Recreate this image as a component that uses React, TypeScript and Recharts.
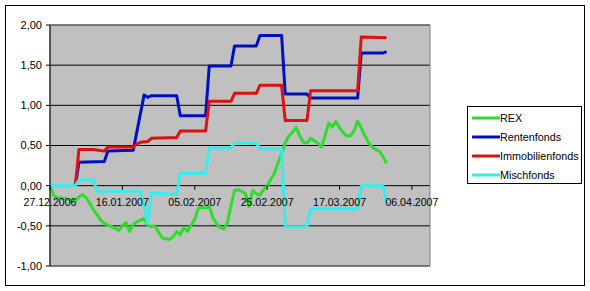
import { CartesianGrid, Line, LineChart, ReferenceArea, XAxis, YAxis } from "recharts";

const W = 590;
const H = 291;
const MARGIN = { top: 25, right: 160, bottom: 0, left: 0 };
const X_AXIS_H = 25;
const Y_AXIS_W = 50;
const FONT = "Arial, 'Liberation Sans', sans-serif";

// axes
const yDomain: [number, number] = [-1, 2];
const yTicks = [-1, -0.5, 0, 0.5, 1, 1.5, 2];
const xDomain: [number, number] = [0, 105];
const xTickDays = [0, 20, 40, 60, 80, 100];
const xTickLabels = ["27.12.2006", "16.01.2007", "05.02.2007", "25.02.2007", "17.03.2007", "06.04.2007"];

// [day since 27.12.2006, value]
const rex: [number, number][] = [
  [0, 0], [1, -0.12], [2, -0.15], [4, -0.16], [6, -0.18], [7, -0.19], [8, -0.14], [9, -0.11],
  [10, -0.15], [11, -0.22], [12, -0.3], [13, -0.36], [14, -0.43], [15, -0.47], [17, -0.51],
  [18, -0.53], [19, -0.56], [20, -0.5], [21, -0.46], [22, -0.57], [23, -0.48], [24, -0.45],
  [25, -0.43], [26, -0.41], [27, -0.49], [28, -0.51], [29, -0.5], [30, -0.58], [31, -0.65],
  [32, -0.66], [33, -0.67], [34, -0.64], [35, -0.57], [36, -0.61], [37, -0.52], [38, -0.57],
  [39, -0.49], [40, -0.42], [41, -0.28], [42, -0.27], [43, -0.28], [44, -0.25], [45, -0.4],
  [46, -0.47], [47, -0.52], [48, -0.54], [49, -0.46], [50, -0.25], [51, -0.06], [52, -0.05],
  [53, -0.07], [54, -0.1], [55, -0.26], [56, -0.06], [57, -0.1], [58, -0.12], [59, -0.05],
  [60, 0.0], [61, 0.08], [62, 0.15], [63, 0.28], [64, 0.4], [65, 0.53], [66, 0.62], [67, 0.66],
  [68, 0.73], [69, 0.62], [70, 0.54], [71, 0.53], [72, 0.59], [73, 0.56], [74, 0.53], [75, 0.48],
  [76, 0.62], [77, 0.78], [78, 0.73], [79, 0.8], [80, 0.72], [81, 0.66], [82, 0.62], [83, 0.62],
  [84, 0.68], [85, 0.8], [86, 0.72], [87, 0.62], [88, 0.54], [89, 0.48], [90, 0.45], [91, 0.43],
  [92, 0.36], [93, 0.28],
];

const rentenfonds: [number, number][] = [
  [7, 0], [8, 0.29], [15, 0.3], [16, 0.43], [23, 0.44], [26, 1.13], [27, 1.1], [28, 1.12],
  [35, 1.12], [36, 0.87], [43, 0.87], [44, 1.49], [50, 1.49], [51, 1.74], [57, 1.74], [58, 1.87],
  [64, 1.87], [65, 1.14], [71, 1.14], [72, 1.09], [85, 1.09], [86, 1.65], [92, 1.65], [93, 1.67],
];

const immobilienfonds: [number, number][] = [
  [7, 0], [8, 0.45], [12, 0.45], [15, 0.43], [16, 0.48], [23, 0.48], [24, 0.52], [25, 0.54],
  [27, 0.55], [28, 0.59], [35, 0.6], [36, 0.68], [43, 0.68], [44, 1.05], [50, 1.05], [51, 1.15],
  [57, 1.15], [58, 1.25], [64, 1.25], [65, 0.81], [71, 0.81], [72, 1.18], [85, 1.18], [86, 1.85],
  [93, 1.84],
];

const mischfonds: [number, number][] = [
  [0, 0], [7, 0], [8, 0.07], [12, 0.07], [13, -0.07], [25, -0.07], [27, -0.47], [28, -0.09],
  [35, -0.11], [36, 0.15], [43, 0.15], [44, 0.47], [50, 0.47], [51, 0.53], [57, 0.53], [58, 0.46],
  [64, 0.46], [65, -0.51], [71, -0.51], [72, -0.29], [85, -0.29], [86, 0.0], [92, 0.0], [93, -0.22],
];

const series = [
  { name: "REX", color: "#2edc2e", points: rex },
  { name: "Rentenfonds", color: "#0010c0", points: rentenfonds },
  { name: "Immobilienfonds", color: "#dd1111", points: immobilienfonds },
  { name: "Mischfonds", color: "#33eeee", points: mischfonds },
];

const fmtY = (v: number) => v.toFixed(2).replace(".", ",");

// x axis crosses at 0, so ticks/labels are shifted up from the plot bottom
function DateTick({ x, y, payload }: any) {
  const plotH = H - MARGIN.top - MARGIN.bottom - X_AXIS_H;
  const zeroY = y - (plotH * (0 - yDomain[0])) / (yDomain[1] - yDomain[0]);
  const i = xTickDays.indexOf(payload.value);
  return (
    <g>
      <line x1={x} x2={x} y1={zeroY} y2={zeroY + 4} stroke="#000" />
      <text x={x} y={zeroY + 20} textAnchor="middle" fontSize={10.6} fill="#000" fontFamily={FONT}>
        {xTickLabels[i]}
      </text>
    </g>
  );
}

function LegendBox() {
  return (
    <div
      style={{
        position: "absolute",
        left: 467,
        top: 106,
        width: 113,
        height: 76,
        border: "1px solid #000",
        background: "#fff",
        fontFamily: FONT,
        fontSize: 10.8,
      }}
    >
      {series.map((s, i) => (
        <div
          key={s.name}
          style={{ position: "absolute", left: 4, top: 3 + i * 19, height: 16, display: "flex", alignItems: "center" }}
        >
          <svg width={28} height={6} style={{ display: "block" }}>
            <line x1={1} x2={27} y1={3} y2={3} stroke={s.color} strokeWidth={3} strokeLinecap="round" />
          </svg>
          <span style={{ whiteSpace: "nowrap" }}>{s.name}</span>
        </div>
      ))}
    </div>
  );
}

export default function App() {
  return (
    <div style={{ position: "absolute", left: 0, top: 0, width: W, height: H, background: "#fff" }}>
      <div
        style={{
          position: "absolute",
          left: 5,
          top: 5,
          width: 578,
          height: 279,
          border: "1px solid #000",
        }}
      />
      <div style={{ position: "absolute", left: 0, top: 0 }}>
        <LineChart width={W} height={H} margin={MARGIN} style={{ fontFamily: FONT }}>
          <CartesianGrid vertical={false} stroke="#000" fill="#c0c0c0" />
          <ReferenceArea y1={yDomain[0]} y2={yDomain[1]} fill="none" stroke="#808080" strokeWidth={1} />
          <XAxis
            type="number"
            dataKey="day"
            domain={xDomain}
            ticks={xTickDays}
            allowDataOverflow
            height={X_AXIS_H}
            axisLine={false}
            tickLine={false}
            tickSize={0}
            tickMargin={0}
            tick={<DateTick />}
            interval={0}
          />
          <YAxis
            type="number"
            domain={yDomain}
            ticks={yTicks}
            width={Y_AXIS_W}
            interval={0}
            tickFormatter={fmtY}
            axisLine={{ stroke: "#000" }}
            tickLine={{ stroke: "#000" }}
            tickSize={4}
            tickMargin={4}
            tick={{ fontSize: 11, fill: "#000", fontFamily: FONT }}
          />
          {series.map((s) => (
            <Line
              key={s.name}
              data={s.points.map(([day, value]) => ({ day, value }))}
              dataKey="value"
              name={s.name}
              type="linear"
              stroke={s.color}
              strokeWidth={3}
              strokeLinejoin="round"
              dot={false}
              activeDot={false}
              isAnimationActive={false}
            />
          ))}
        </LineChart>
      </div>
      <LegendBox />
    </div>
  );
}
